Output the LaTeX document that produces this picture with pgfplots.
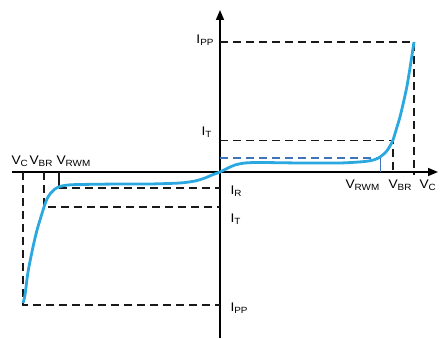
\documentclass[border=0pt]{standalone}
\usepackage{fontspec}
\setmainfont{Liberation Sans}
\usepackage{graphicx}
\usepackage{pgfplots}
\pgfplotsset{compat=1.18}
\usetikzlibrary{arrows.meta}
\definecolor{curveblue}{HTML}{2BA8E0}
\definecolor{irblue}{HTML}{3F74B8}
\definecolor{labgray}{HTML}{2E2E2E}
% label: big letter with a small subscript, stretched a little sideways
\newcommand{\lab}[2]{\scalebox{1.1}[1]{{\fontsize{12.5}{12.5}\selectfont #1}\raisebox{-1.2pt}{\fontsize{9}{9}\selectfont #2}}}

\begin{document}
\begin{tikzpicture}
\begin{axis}[
    x=1pt, y=1pt,
    xmin=-208, xmax=218,
    ymin=-166, ymax=162,
    axis lines=middle,
    axis line style={line width=1.6pt, -{Triangle[length=10pt,width=8pt]}},
    ticks=none,
    clip=false,
    dashline/.style={black!90, line width=1.5pt, dash pattern=on 8pt off 5pt},
    every node/.style={labgray, inner sep=0pt},
]
% room around the axis, as in the reference
\path (axis cs:-220,-166) rectangle (axis cs:220,172);

% reference lines, right (forward) side
\addplot[dashline] coordinates {(0,130) (194,130) (194,-3)};
\addplot[dashline] coordinates {(0,31.5) (173,31.5) (173,-3)};
\addplot[irblue, line width=1.2pt, dash pattern=on 8pt off 5pt] coordinates {(0,14) (160,14)};
\addplot[irblue, line width=1pt] coordinates {(160,14) (160,0)};

% reference lines, left (reverse) side
\addplot[black!90, line width=1.2pt] coordinates {(-161,0) (-161,-16)};
\addplot[dashline] coordinates {(-161,-16) (0,-16)};
\addplot[dashline] coordinates {(-176,0) (-176,-35) (0,-35)};
\addplot[dashline] coordinates {(-197,0) (-197,-133) (0,-133)};

% I-V curve
\addplot[curveblue, line width=2.8pt, smooth, tension=0.45] coordinates {
    (-197,-131) (-195,-123) (-192,-100) (-187,-75) (-183,-58) (-180,-48)
    (-176,-35) (-173,-27) (-170,-22) (-165,-17) (-160,-14.5) (-152,-13)
    (-140,-12.5) (-100,-12) (-70,-12) (-40,-11) (-25,-9) (-15,-6)
    (-8,-3) (0,0) (8,4) (15,7) (25,9) (40,9.5) (80,9) (120,9)
    (145,10.5) (155,12.5) (160,15) (166,20) (170,26) (173,32)
    (177,45) (180,55) (184,72) (187,86) (190,104) (194,130)
};

% labels
\node[anchor=base west] at (axis cs:-212,7) {\lab{V}{C}};
\node[anchor=base west] at (axis cs:-194,7) {\lab{V}{BR}};
\node[anchor=base west] at (axis cs:-167,7) {\lab{V}{RWM}};
\node[anchor=base west] at (axis cs:122,-17) {\lab{V}{RWM}};
\node[anchor=base west] at (axis cs:165,-17) {\lab{V}{BR}};
\node[anchor=base west] at (axis cs:196,-17) {\lab{V}{C}};
\node[anchor=base east] at (axis cs:-3,128) {\lab{I}{PP}};
\node[anchor=base east] at (axis cs:-5,36) {\lab{I}{T}};
\node[anchor=base west] at (axis cs:7,-23) {\lab{I}{R}};
\node[anchor=base west] at (axis cs:7,-51) {\lab{I}{T}};
\node[anchor=base west] at (axis cs:7,-140) {\lab{I}{PP}};
\end{axis}
\end{tikzpicture}
\end{document}
